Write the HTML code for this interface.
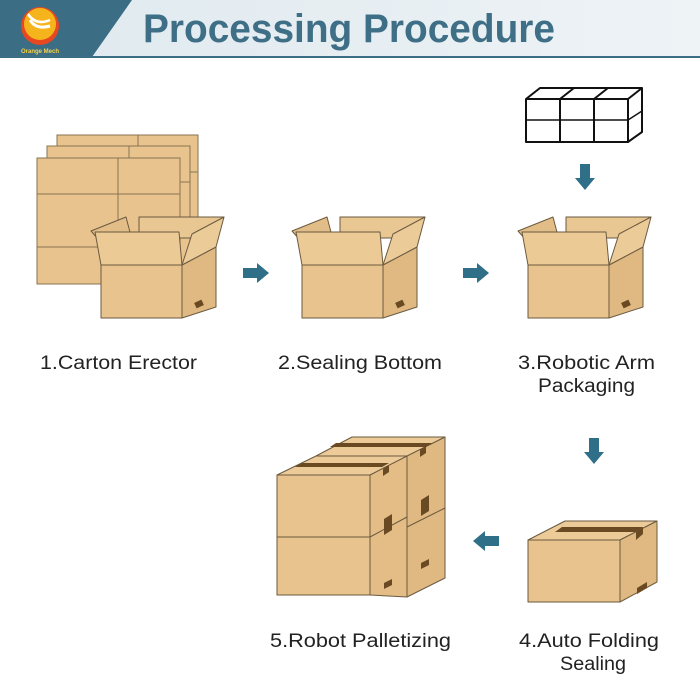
<!DOCTYPE html>
<html><head><meta charset="utf-8"><style>
html,body{margin:0;padding:0;background:#fff;}
svg{display:block;}
text{font-family:"Liberation Sans",sans-serif;}
</style></head><body>
<svg width="700" height="700" viewBox="0 0 700 700" xmlns="http://www.w3.org/2000/svg">
<defs>
<linearGradient id="hg" x1="0" x2="1" y1="0" y2="0">
<stop offset="0" stop-color="#dfe9ef"/><stop offset="1" stop-color="#eef3f6"/>
</linearGradient>
<g id="openbox" stroke="#6b5a40" stroke-width="1" stroke-linejoin="round">
<polygon points="340,217 425,217 410,238 340,238" fill="#e9c793"/>
<polygon points="292,231 327,217 332,236 300,240" fill="#e2bd88"/>
<polygon points="383,265 417,247 417,307 383,318" fill="#e0b982"/>
<polygon points="383,265 393,234 425,217 417,247" fill="#ebcb98"/>
<rect x="302" y="265" width="81" height="53" fill="#e8c38d"/>
<polygon points="296,232 380,232 383,265 302,265" fill="#ecca96"/>
<rect x="396" y="301" width="8" height="6" fill="#6a4a22" stroke="none" transform="rotate(-25 400 304)"/>
</g>
<polygon id="arrR" points="0,-5 14,-5 14,-10 26,0 14,10 14,5 0,5" fill="#2f6f88"/>
</defs>

<rect x="0" y="0" width="700" height="57" fill="url(#hg)"/>
<polygon points="0,0 132,0 92,57 0,57" fill="#3b6d85"/>
<line x1="0" y1="57" x2="700" y2="57" stroke="#3b6d85" stroke-width="2"/>
<circle cx="40" cy="26" r="19" fill="#e8481f"/>
<circle cx="40" cy="24" r="16" fill="#f6b41c"/>
<path d="M30,20 q6,10 20,6" stroke="#fff" stroke-width="3" fill="none"/>
<path d="M28,14 q8,12 22,6" stroke="#fff" stroke-width="2.5" fill="none"/>
<text x="40" y="53" font-size="6" fill="#f6d24a" text-anchor="middle" font-weight="bold">Orange Mech</text>
<text x="143" y="42" font-size="40" font-weight="bold" fill="#3e6f86" textLength="412" lengthAdjust="spacingAndGlyphs">Processing Procedure</text>

<g stroke="#8a7352" stroke-width="1" fill="#e8c38d">
<rect x="57" y="135" width="141" height="120"/>
<line x1="138" y1="135" x2="138" y2="148"/>
<rect x="47" y="146" width="143" height="125"/>
<line x1="129" y1="146" x2="129" y2="158"/>
<line x1="190" y1="172" x2="198" y2="172"/>
<rect x="37" y="158" width="143" height="126"/>
<line x1="118" y1="158" x2="118" y2="284"/>
<line x1="37" y1="194" x2="180" y2="194"/>
<line x1="37" y1="247" x2="180" y2="247"/>
<line x1="180" y1="182" x2="190" y2="182"/>
</g>
<use href="#openbox" transform="translate(-201,0)"/>
<use href="#openbox"/>
<use href="#openbox" transform="translate(226,0)"/>

<g stroke="#111" stroke-width="2" fill="#fff" stroke-linejoin="round">
<polygon points="526,99 540,88 642,88 642,132 628,142 526,142"/>
<line x1="526" y1="99" x2="628" y2="99"/><line x1="628" y1="99" x2="642" y2="88"/>
<line x1="628" y1="99" x2="628" y2="142"/>
<line x1="560" y1="99" x2="560" y2="142"/><line x1="594" y1="99" x2="594" y2="142"/>
<line x1="560" y1="99" x2="574" y2="88"/><line x1="594" y1="99" x2="608" y2="88"/>
<line x1="526" y1="120" x2="628" y2="120" stroke-width="1.5"/><line x1="628" y1="120" x2="642" y2="111" stroke-width="1.5"/>
</g>

<g stroke="#6b5a40" stroke-width="1" stroke-linejoin="round">
<polygon points="528,540 565,521 657,521 620,540" fill="#eccb99"/>
<polygon points="555,532 562,527 643,527 636,532" fill="#6a4a22" stroke="none"/>
<polygon points="620,540 657,521 657,582 620,602" fill="#e0b982"/>
<rect x="528" y="540" width="92" height="62" fill="#e8c38d"/>
<polygon points="636,532 643,527 643,534 636,540" fill="#6a4a22" stroke="none"/>
<polygon points="637,588 647,582 647,588 637,594" fill="#6a4a22" stroke="none"/>
</g>

<g stroke="#6b5a40" stroke-width="1" stroke-linejoin="round">
<polygon points="407,455 445,437 445,578 407,597" fill="#e0b982"/>
<polygon points="370,475 407,455 407,597 370,595" fill="#e3bc86"/>
<polygon points="277,475 316,456 407,456 370,475" fill="#eccb99"/>
<polygon points="316,456 352,437 445,437 407,456" fill="#eccb99"/>
<polygon points="330,447 336,443 432,443 426,447" fill="#6a4a22" stroke="none"/>
<polygon points="295,467 302,463 389,463 382,467" fill="#6a4a22" stroke="none"/>
<rect x="277" y="475" width="93" height="62" fill="#e8c38d"/>
<rect x="277" y="537" width="93" height="58" fill="#e8c38d"/>
<line x1="407" y1="527" x2="445" y2="508"/>
<line x1="370" y1="537" x2="407" y2="517"/>
<polygon points="384,519 392,514 392,530 384,535" fill="#6a4a22" stroke="none"/>
<polygon points="421,500 429,495 429,511 421,516" fill="#6a4a22" stroke="none"/>
<polygon points="384,583 392,579 392,585 384,589" fill="#6a4a22" stroke="none"/>
<polygon points="421,563 429,559 429,565 421,569" fill="#6a4a22" stroke="none"/>
<polygon points="383,469 389,465 389,472 383,476" fill="#6a4a22" stroke="none"/>
<polygon points="420,450 426,446 426,453 420,457" fill="#6a4a22" stroke="none"/>
</g>

<use href="#arrR" transform="translate(243,273)"/>
<use href="#arrR" transform="translate(463,273)"/>
<use href="#arrR" transform="translate(585,164) rotate(90)"/>
<use href="#arrR" transform="translate(594,438) rotate(90)"/>
<use href="#arrR" transform="translate(499,541) rotate(180)"/>

<g font-size="19" fill="#222">
<text x="40" y="369" textLength="157" lengthAdjust="spacingAndGlyphs">1.Carton Erector</text>
<text x="278" y="369" textLength="164" lengthAdjust="spacingAndGlyphs">2.Sealing Bottom</text>
<text x="518" y="369" textLength="137" lengthAdjust="spacingAndGlyphs">3.Robotic Arm</text>
<text x="538" y="392" textLength="97" lengthAdjust="spacingAndGlyphs">Packaging</text>
<text x="270" y="647" textLength="181" lengthAdjust="spacingAndGlyphs">5.Robot Palletizing</text>
<text x="519" y="647" textLength="140" lengthAdjust="spacingAndGlyphs">4.Auto Folding</text>
<text x="560" y="670" textLength="66" lengthAdjust="spacingAndGlyphs">Sealing</text>
</g>
</svg>
</body></html>
